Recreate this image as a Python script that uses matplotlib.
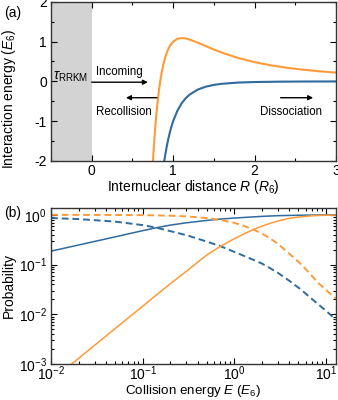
import matplotlib
matplotlib.use('Agg')
import matplotlib.pyplot as plt
from matplotlib.ticker import MultipleLocator, LogLocator, NullFormatter

plt.rcParams['font.family'] = ['Liberation Sans', 'DejaVu Sans']
plt.rcParams['mathtext.fontset'] = 'custom'
plt.rcParams['mathtext.rm'] = 'Liberation Sans'
plt.rcParams['mathtext.it'] = 'Liberation Sans:italic'
plt.rcParams['mathtext.bf'] = 'Liberation Sans:bold'
plt.rcParams['axes.unicode_minus'] = False

BLUE = '#2f6b9e'
ORANGE = '#ff9a38'

# (a) interaction potentials
r_well = [0.88, 0.89, 0.90, 0.92, 0.94, 0.96, 0.98, 1.00, 1.05, 1.10, 1.15, 1.20,
          1.30, 1.40, 1.50, 1.60, 1.80, 2.00, 2.30, 2.60, 3.00]
v_well = [-2.15, -2.012, -1.882, -1.649, -1.450, -1.278, -1.129, -1.000, -0.746,
          -0.564, -0.432, -0.335, -0.207, -0.133, -0.088, -0.060, -0.029, -0.016,
          -0.007, -0.003, -0.001]

r_barrier = [0.75, 0.76, 0.78, 0.80, 0.82, 0.84, 0.86, 0.88, 0.90, 0.93, 0.96, 1.00,
             1.05, 1.10, 1.15, 1.20, 1.30, 1.40, 1.50, 1.60, 1.80, 2.00, 2.20, 2.40,
             2.60, 2.80, 3.00]
v_barrier = [-2.063, -1.727, -1.153, -0.690, -0.315, -0.012, 0.232, 0.429, 0.587,
             0.767, 0.893, 1.000, 1.068, 1.088, 1.080, 1.054, 0.976, 0.888, 0.801,
             0.722, 0.588, 0.484, 0.404, 0.342, 0.293, 0.253, 0.221]

# (b) probabilities vs collision energy
e_blue_solid = [0.01, 0.02, 0.05, 0.1, 0.142, 0.2, 0.3, 0.5, 0.7, 1.0, 1.5, 2.0,
                3.0, 5.0, 8.0, 12.9]
p_blue_solid = [0.186, 0.247, 0.36, 0.48, 0.55, 0.62, 0.69, 0.77, 0.82, 0.86, 0.90,
                0.93, 0.96, 0.98, 0.99, 1.0]

e_blue_dash = [0.01, 0.02, 0.05, 0.1, 0.142, 0.2, 0.3, 0.5, 0.7, 1.0, 1.5, 2.0,
               2.35, 3.0, 4.0, 5.4, 7.0, 10.0, 12.9]
p_blue_dash = [0.86, 0.82, 0.73, 0.62, 0.55, 0.47, 0.39, 0.29, 0.235, 0.18, 0.132,
               0.105, 0.089, 0.068, 0.047, 0.031, 0.0205, 0.0118, 0.0078]

e_orange_solid = [0.0168, 0.03, 0.05, 0.1, 0.2, 0.3, 0.5, 0.7, 1.0, 1.3, 1.6, 2.0,
                  2.5, 3.0, 4.0, 5.0, 7.0, 10.0, 12.9]
p_orange_solid = [0.001, 0.00239, 0.00514, 0.0145, 0.041, 0.073, 0.155, 0.23, 0.33,
                  0.42, 0.50, 0.59, 0.68, 0.75, 0.85, 0.90, 0.955, 0.98, 0.99]

e_orange_dash = [0.01, 0.03, 0.1, 0.2, 0.3, 0.5, 0.7, 1.0, 1.3, 1.6, 2.0, 2.5, 3.0,
                 4.0, 5.0, 6.5, 8.0, 10.0, 12.9]
p_orange_dash = [1.0, 0.995, 0.985, 0.96, 0.93, 0.86, 0.79, 0.69, 0.59, 0.51, 0.42,
                 0.33, 0.26, 0.165, 0.115, 0.07, 0.045, 0.031, 0.0205]


def style_axes(ax, xpad=2.5):
    ax.tick_params(which='both', direction='in', top=True, right=True,
                   labelsize=10, width=0.8)
    ax.tick_params(axis='x', pad=xpad)
    ax.tick_params(axis='y', pad=3)
    ax.tick_params(which='major', length=4)
    ax.tick_params(which='minor', length=2)
    for s in ax.spines.values():
        s.set_linewidth(1.0)
        s.set_color('#333333')


fig = plt.figure(figsize=(3.38, 4.0), dpi=100)

# panel (a)
ax1 = fig.add_axes([0.151, 0.5975, 0.843, 0.398])
ax1.axvspan(-0.5, 0, color='#d3d3d3', lw=0)
ax1.plot(r_well, v_well, color=BLUE, lw=1.5)
ax1.plot(r_barrier, v_barrier, color=ORANGE, lw=1.5)
ax1.set_xlim(-0.5, 3)
ax1.set_ylim(-2, 2)
ax1.xaxis.set_major_locator(MultipleLocator(1))
ax1.xaxis.set_minor_locator(MultipleLocator(0.5))
ax1.yaxis.set_major_locator(MultipleLocator(1))
ax1.yaxis.set_minor_locator(MultipleLocator(0.5))
style_axes(ax1)
ax1.set_xlabel(r'Internuclear distance $R$ ($R_6$)', fontsize=10, labelpad=0)
ax1.set_ylabel(r'Interaction energy ($E_6$)', fontsize=10)
ax1.yaxis.set_label_coords(-0.116, 0.39)

arrow = dict(arrowstyle='-|>', color='black', lw=1.0, mutation_scale=7,
             shrinkA=0, shrinkB=0)
ax1.annotate('', xy=(0.69, -0.02), xytext=(0.0, -0.02), arrowprops=arrow)
ax1.annotate('', xy=(0.42, -0.41), xytext=(0.80, -0.41), arrowprops=arrow)
ax1.annotate('', xy=(2.72, -0.41), xytext=(2.32, -0.41), arrowprops=arrow)
ax1.text(0.05, 0.23, 'Incoming', fontsize=8.3, ha='left', va='center')
ax1.text(0.05, -0.76, 'Recollision', fontsize=8.3, ha='left', va='center')
ax1.text(2.07, -0.76, 'Dissociation', fontsize=8.3, ha='left', va='center')
ax1.text(-0.47, 0.12, r'$\tau_{\rm RRKM}$', fontsize=10, ha='left', va='center')
fig.text(0.037, 0.9675, '(a)', fontsize=10, ha='center', va='center')

# panel (b)
ax2 = fig.add_axes([0.151, 0.09, 0.843, 0.39])
ax2.plot(e_blue_solid, p_blue_solid, color=BLUE, lw=1.1)
ax2.plot(e_blue_dash, p_blue_dash, color=BLUE, lw=1.4, dashes=(3.5, 2))
ax2.plot(e_orange_solid, p_orange_solid, color=ORANGE, lw=1.1)
ax2.plot(e_orange_dash, p_orange_dash, color=ORANGE, lw=1.4, dashes=(3.5, 2))
ax2.set_xscale('log')
ax2.set_yscale('log')
ax2.set_xlim(1e-2, 12.9)
ax2.set_ylim(1e-3, 1.37)
ax2.xaxis.set_major_locator(LogLocator(base=10, numticks=10))
ax2.xaxis.set_minor_locator(LogLocator(base=10, subs=range(2, 10), numticks=20))
ax2.xaxis.set_minor_formatter(NullFormatter())
ax2.yaxis.set_major_locator(LogLocator(base=10, numticks=10))
ax2.yaxis.set_minor_locator(LogLocator(base=10, subs=range(2, 10), numticks=20))
ax2.yaxis.set_minor_formatter(NullFormatter())
style_axes(ax2, xpad=0.5)
ax2.set_xlabel(r'Collision energy $E$ ($E_6$)', fontsize=9.6, labelpad=0)
ax2.set_ylabel('Probability', fontsize=10)
ax2.yaxis.set_label_coords(-0.125, 0.5)
fig.text(0.037, 0.4675, '(b)', fontsize=10, ha='center', va='center')

fig.savefig('out.png', dpi=100)
